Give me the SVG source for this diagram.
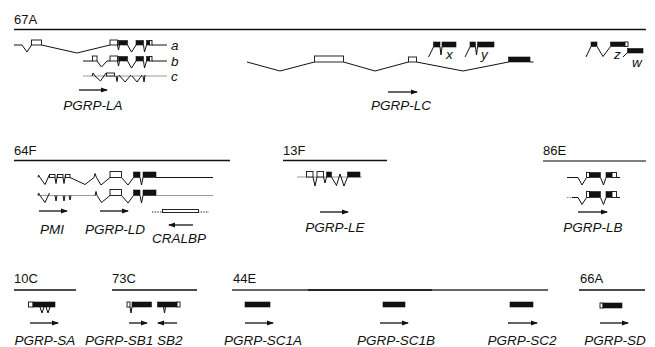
<svg xmlns="http://www.w3.org/2000/svg" width="655" height="347" viewBox="0 0 655 347">
<defs>
<marker id="ah" markerUnits="userSpaceOnUse" markerWidth="7" markerHeight="6" refX="6" refY="3" orient="auto">
<path d="M0,0.5 L7,3 L0,5.5 z" fill="#111"/>
</marker>
<style>
.t{font-family:"Liberation Sans",Arial,sans-serif;font-size:13px;fill:#111}
.g{font-family:"Liberation Sans",Arial,sans-serif;font-size:13.5px;font-style:italic;fill:#111;text-anchor:middle}
.s{font-family:"Liberation Sans",Arial,sans-serif;font-size:13.5px;font-style:italic;fill:#111}
.ln{stroke:#111;stroke-width:1;fill:none}
.gr{stroke:#999;stroke-width:1.2;fill:none}
.ex{fill:#fff;stroke:#111;stroke-width:0.9}
.bk{fill:#111;stroke:#111;stroke-width:0.6}
.chr{stroke:#111;stroke-width:1.6}
.arr{stroke:#111;stroke-width:1.3;fill:none;marker-end:url(#ah)}
</style>
</defs>
<rect width="655" height="347" fill="#fff"/>

<!-- 67A locus -->
<g id="locus-67A">
<text class="t" x="14" y="24">67A</text>
<line class="chr" x1="14" y1="29.5" x2="646" y2="29.5"/>
</g>

<g id="gene-PGRP-LA">
<!-- transcript a -->
<polyline class="ln" points="14,45 22,45 27,52 31.5,45"/>
<rect class="ex" x="31.5" y="40" width="10" height="5"/>
<polyline class="ln" points="41.5,45 77,53 110,45"/>
<rect class="ex" x="110" y="40" width="7.5" height="5"/>
<polyline class="ln" points="117.5,45 118.5,50 119.5,45"/>
<rect class="bk" x="118.5" y="40.5" width="9" height="4.5"/>
<polyline class="ln" points="127.5,45 131.5,52 136,45"/>
<rect class="bk" x="136" y="40.5" width="7.5" height="4.5"/>
<polyline class="ln" points="143.5,45 144.5,52 146.5,45"/>
<rect class="bk" x="146.5" y="40.5" width="3" height="4.5"/>
<rect class="ex" x="149.5" y="40.5" width="2.5" height="4.5"/>
<line class="ln" x1="152" y1="45" x2="167" y2="45"/>
<text class="s" x="171" y="50">a</text>
<!-- transcript b -->
<polyline class="ln" points="83,61 92.5,61"/>
<rect class="ex" x="92.5" y="56" width="4.5" height="5"/>
<polyline class="ln" points="97,61 101.5,67 107,61 110,61"/>
<rect class="ex" x="110" y="56" width="7.5" height="5"/>
<polyline class="ln" points="117.5,61 118.5,66 119.5,61"/>
<rect class="bk" x="118.5" y="56.5" width="9" height="4.5"/>
<polyline class="ln" points="127.5,61 131.5,68 136,61"/>
<rect class="bk" x="136" y="56.5" width="7.5" height="4.5"/>
<polyline class="ln" points="143.5,61 144.5,68 146.5,61"/>
<rect class="bk" x="146.5" y="56.5" width="3" height="4.5"/>
<rect class="ex" x="149.5" y="56.5" width="2.5" height="4.5"/>
<line class="ln" x1="152" y1="61" x2="167" y2="61"/>
<text class="s" x="171" y="66">b</text>
<!-- transcript c -->
<line class="gr" x1="83" y1="76" x2="167" y2="76"/>
<polyline class="ln" points="92,76 93,73 95,76 100.5,81 106,73"/>
<rect class="ex" x="106.5" y="73" width="8" height="3"/>
<polyline class="ln" points="116,76 117,81.5 118,76"/>
<polyline class="ln" points="119,75 125,82 131,75"/>
<polyline class="ln" points="132,76 137,82 142,75"/>
<polyline class="ln" points="143,76 144,82 145,75"/>
<text class="s" x="171" y="81">c</text>
<text class="g" x="93" y="110">PGRP-LA</text>
</g>

<g id="gene-PGRP-LC">
<polyline class="ln" points="247,62 280,71 314.5,62"/>
<rect class="ex" x="314.5" y="56" width="29" height="6"/>
<polyline class="ln" points="343.5,62 375,71 408.5,62"/>
<rect class="ex" x="408.5" y="57" width="8" height="5"/>
<polyline class="ln" points="416.5,62 463,71 508.5,62"/>
<rect class="bk" x="508.5" y="57" width="21.5" height="5"/>
<line class="ln" x1="530" y1="62" x2="533.5" y2="62"/>
<!-- x -->
<line class="ln" x1="428.5" y1="57" x2="433.5" y2="47"/>
<rect class="bk" x="433.5" y="42" width="6.5" height="5"/>
<polyline class="ln" points="440,47 441,55 442,47"/>
<rect class="bk" x="442" y="42" width="14" height="5"/>
<text class="s" x="446" y="59">x</text>
<!-- y -->
<line class="ln" x1="465" y1="57" x2="470" y2="47"/>
<rect class="bk" x="470" y="42" width="5.5" height="5"/>
<polyline class="ln" points="475.5,47 476.5,55 477.5,47"/>
<rect class="bk" x="477.5" y="42" width="16.5" height="5"/>
<text class="s" x="481" y="59">y</text>
<!-- z -->
<line class="ln" x1="586" y1="57" x2="591" y2="46.5"/>
<rect class="bk" x="591" y="42" width="6" height="4.5"/>
<polyline class="ln" points="597,46.5 603,56.5 610.5,46.5"/>
<rect class="bk" x="610.5" y="42" width="14.5" height="4.5"/>
<rect class="ex" x="625" y="42" width="3" height="4.5"/>
<text class="s" x="614" y="59">z</text>
<!-- w -->
<line class="ln" x1="623" y1="57" x2="627" y2="53"/>
<rect class="bk" x="627.5" y="48.5" width="15.5" height="4.5"/>
<text class="s" x="632" y="67">w</text>
<text class="g" x="401" y="110">PGRP-LC</text>
</g>

<!-- 64F locus -->
<g id="locus-64F">
<text class="t" x="14" y="155">64F</text>
<line class="chr" x1="14" y1="160.5" x2="230" y2="160.5"/>
</g>

<g id="gene-PMI">
<polyline class="ln" points="38,177.5 38.5,175 40,177.5 45,184.5 49.5,174.5"/>
<rect class="ex" x="49.5" y="174.5" width="5.5" height="3"/>
<polyline class="ln" points="55,177.5 56,183.5 57.5,174.5"/>
<rect class="ex" x="57.5" y="174.5" width="5.5" height="3"/>
<polyline class="ln" points="63,177.5 64,183.5 65.5,174.5"/>
<rect class="ex" x="65.5" y="174.5" width="4.5" height="3"/>
<line class="gr" x1="38" y1="195.5" x2="96" y2="195.5"/>
<polyline class="ln" points="38,195.5 38.5,193 40,195.5 45,202.5 49.5,193"/>
<polyline class="ln" points="55,195.5 56,201 57,195.5"/>
<polyline class="ln" points="63,195.5 64,201 65,195.5"/>
<polyline class="ln" points="69,195.5 70,200 71,195.5"/>
<text class="g" x="52" y="234">PMI</text>
</g>

<g id="gene-PGRP-LD">
<polyline class="ln" points="70,177.5 85,184.5 94,177.5 95,173.5 96.5,177.5 101,185 110,177.5"/>
<rect class="ex" x="110" y="171.5" width="11.5" height="6"/>
<polyline class="ln" points="121.5,177.5 128,185 133.5,177.5"/>
<rect class="bk" x="133.5" y="172" width="6.5" height="5.5"/>
<polyline class="ln" points="140,177.5 141.5,185 143,177.5"/>
<rect class="bk" x="143" y="172" width="13" height="5.5"/>
<line class="ln" x1="156" y1="177.5" x2="213" y2="177.5"/>
<polyline class="ln" points="95,195.5 96,191.5 97,195.5 101.5,202.5 110,195.5"/>
<rect class="ex" x="110" y="189.5" width="11.5" height="6"/>
<polyline class="ln" points="121.5,195.5 128,203 133.5,195.5"/>
<rect class="bk" x="133.5" y="190" width="6.5" height="5.5"/>
<polyline class="ln" points="140,195.5 141.5,203 143,195.5"/>
<rect class="bk" x="143" y="190" width="13" height="5.5"/>
<line class="gr" x1="156" y1="195.5" x2="213" y2="195.5"/>
<text class="g" x="115" y="234">PGRP-LD</text>
</g>

<g id="gene-CRALBP">
<line x1="152" y1="212" x2="209" y2="212" stroke="#333" stroke-width="1" stroke-dasharray="1.5,1.2"/>
<rect x="162.5" y="209.5" width="36" height="3" fill="#fff" stroke="#111" stroke-width="0.9"/>
<text class="g" x="179" y="243">CRALBP</text>
</g>

<!-- 13F locus -->
<g id="locus-13F">
<text class="t" x="283" y="155">13F</text>
<line class="chr" x1="283" y1="160.5" x2="387" y2="160.5"/>
</g>

<g id="gene-PGRP-LE">
<line class="gr" x1="297" y1="177" x2="362" y2="177"/>
<rect class="ex" x="306.5" y="171.5" width="6.5" height="5.5"/>
<polyline class="ln" points="313,177 315,186 317,177"/>
<rect class="ex" x="317" y="171.5" width="6.5" height="5.5"/>
<polyline class="ln" points="323.5,177 325,183 326.5,177"/>
<rect class="bk" x="326.5" y="172" width="5" height="5"/>
<polyline class="ln" points="331.5,177 336.5,185.5 340,174 344,186 347.5,177"/>
<rect class="bk" x="347.5" y="172" width="12.5" height="5"/>
<text class="g" x="335" y="232">PGRP-LE</text>
</g>

<!-- 86E locus -->
<g id="locus-86E">
<text class="t" x="543" y="155">86E</text>
<line x1="543" y1="161" x2="646" y2="161" stroke="#555" stroke-width="1.6"/>
</g>

<g id="gene-PGRP-LB">
<polyline class="ln" points="567,177.5 578,177.5 582,185 586.5,177.5"/>
<rect class="ex" x="586.5" y="172.5" width="3" height="5"/>
<rect class="bk" x="589.5" y="172.5" width="11" height="5"/>
<polyline class="ln" points="600.5,177.5 603.5,185 606,177.5"/>
<rect class="bk" x="606" y="172.5" width="6" height="5"/>
<rect class="ex" x="612" y="172.5" width="4.5" height="5"/>
<line class="ln" x1="616.5" y1="177.5" x2="620" y2="177.5"/>
<line x1="567" y1="197.5" x2="572" y2="197.5" stroke="#888" stroke-width="1" stroke-dasharray="1.5,1"/>
<polyline class="ln" points="572,197.5 578,197.5 582,204.5 586.5,197.5"/>
<rect class="ex" x="586.5" y="191.5" width="3" height="6"/>
<rect class="bk" x="589.5" y="191.5" width="11" height="6"/>
<polyline class="ln" points="600.5,197.5 603.5,204.5 606,197.5"/>
<rect class="bk" x="606" y="191.5" width="6" height="6"/>
<rect class="ex" x="612" y="191.5" width="4.5" height="6"/>
<line class="ln" x1="616.5" y1="197.5" x2="620" y2="197.5"/>
<text class="g" x="593" y="232">PGRP-LB</text>
</g>

<!-- 10C locus -->
<g id="locus-10C">
<text class="t" x="14" y="283">10C</text>
<line class="chr" x1="14" y1="290" x2="76" y2="290"/>
</g>
<g id="gene-PGRP-SA">
<rect class="ex" x="28.5" y="302" width="4.5" height="5"/>
<rect class="bk" x="33" y="302" width="22" height="5"/>
<polyline class="ln" points="40,307 42,313 44,307"/>
<polyline class="ln" points="46,307 48,313 50,307"/>
<text class="g" x="45" y="345">PGRP-SA</text>
</g>

<!-- 73C locus -->
<g id="locus-73C">
<text class="t" x="112" y="283">73C</text>
<line class="chr" x1="112" y1="290" x2="197" y2="290"/>
</g>
<g id="gene-PGRP-SB1-SB2">
<rect class="ex" x="127" y="302" width="3" height="5"/>
<polyline class="ln" points="130,307 131,313 132,307"/>
<rect class="bk" x="132" y="302" width="19.5" height="5"/>
<rect class="bk" x="157.5" y="302" width="19.5" height="5"/>
<rect class="ex" x="177" y="302" width="3" height="5"/>
<polyline class="ln" points="163.5,307 164.5,313 165.5,307"/>
<text class="s" x="85" y="345">PGRP-SB1 SB2</text>
</g>

<!-- 44E locus -->
<g id="locus-44E">
<text class="t" x="233" y="283">44E</text>
<line x1="232" y1="290" x2="548" y2="290" stroke="#333" stroke-width="1.3"/>
<line x1="308" y1="290" x2="432" y2="290" stroke="#111" stroke-width="1.7"/>
</g>
<g id="gene-PGRP-SC1A">
<rect class="bk" x="245" y="302" width="25" height="5"/>
<text class="g" x="263" y="345">PGRP-SC1A</text>
</g>
<g id="gene-PGRP-SC1B">
<rect class="bk" x="383" y="302" width="22" height="5"/>
<text class="g" x="396" y="345">PGRP-SC1B</text>
</g>
<g id="gene-PGRP-SC2">
<rect class="bk" x="510" y="302" width="23" height="5"/>
<text class="g" x="522" y="345">PGRP-SC2</text>
</g>

<!-- 66A locus -->
<g id="locus-66A">
<text class="t" x="580" y="283">66A</text>
<line class="chr" x1="579" y1="290" x2="645" y2="290"/>
</g>
<g id="gene-PGRP-SD">
<rect class="ex" x="600" y="303" width="3" height="5"/>
<rect class="bk" x="603" y="303" width="19" height="5"/>
<text class="g" x="615" y="345">PGRP-SD</text>
</g>

<!-- direction arrows -->
<g id="connectors">
<line class="arr" x1="79" y1="90" x2="107" y2="90"/>
<line class="arr" x1="388" y1="92" x2="417" y2="92"/>
<line class="arr" x1="39" y1="211" x2="67" y2="211"/>
<line class="arr" x1="100" y1="211" x2="128" y2="211"/>
<line class="arr" x1="193" y1="225" x2="169" y2="225"/>
<line class="arr" x1="320" y1="212" x2="348" y2="212"/>
<line class="arr" x1="578" y1="212" x2="607" y2="212"/>
<line class="arr" x1="30" y1="323" x2="58" y2="323"/>
<line class="arr" x1="129" y1="323" x2="147" y2="323"/>
<line class="arr" x1="177" y1="323" x2="158" y2="323"/>
<line class="arr" x1="245" y1="323" x2="273" y2="323"/>
<line class="arr" x1="380" y1="323" x2="408" y2="323"/>
<line class="arr" x1="508" y1="323" x2="537" y2="323"/>
<line class="arr" x1="600" y1="323" x2="628" y2="323"/>
</g>
</svg>
